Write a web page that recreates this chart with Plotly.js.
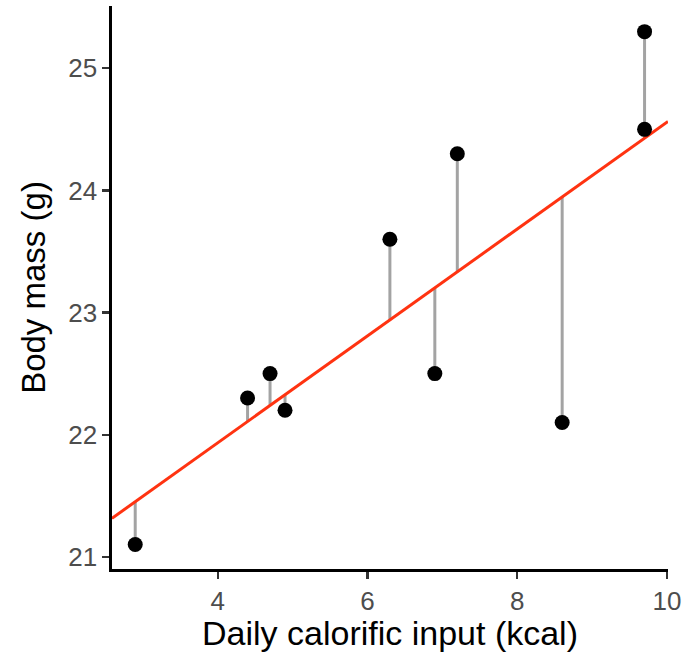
<!DOCTYPE html>
<html>
<head>
<meta charset="utf-8">
<script src="https://cdn.plot.ly/plotly-3.0.1.min.js"></script>
<style>html,body{margin:0;padding:0;background:#fff;}#chart{width:688px;height:652px;}</style>
</head>
<body>
<div id="chart"></div>
<script>
// Data
const calories = [2.9, 4.4, 4.7, 4.9, 6.3, 6.9, 7.2, 8.6, 9.7, 9.7];
const bodyMass = [21.1, 22.3, 22.5, 22.2, 23.6, 22.5, 24.3, 22.1, 25.3, 24.5];
const xTicks = [4, 6, 8, 10];
const yTicks = [21, 22, 23, 24, 25];
const xRange = [2.59, 10.013];
const yRange = [20.9, 25.51];

// least-squares fit
const n = calories.length;
const mx = calories.reduce((a, b) => a + b, 0) / n;
const my = bodyMass.reduce((a, b) => a + b, 0) / n;
let sxy = 0, sxx = 0;
for (let i = 0; i < n; i++) { sxy += (calories[i] - mx) * (bodyMass[i] - my); sxx += (calories[i] - mx) ** 2; }
const slope = sxy / sxx;
const intercept = my - slope * mx;
const fit = x => intercept + slope * x;

const segX = [], segY = [];
for (let i = 0; i < n; i++) { segX.push(calories[i], calories[i], null); segY.push(bodyMass[i], fit(calories[i]), null); }

const traces = [
  { x: segX, y: segY, mode: 'lines', line: { color: '#a3a3a3', width: 3 }, hoverinfo: 'skip', cliponaxis: false },
  { x: xRange, y: xRange.map(fit), mode: 'lines', line: { color: '#ff3311', width: 3 }, hoverinfo: 'skip' },
  { x: calories, y: bodyMass, mode: 'markers', marker: { color: '#000', size: 15 }, cliponaxis: false }
];

const font = 'Liberation Sans, Arial, Helvetica, sans-serif';
const layout = {
  width: 688, height: 652,
  margin: { l: 112, r: 20, t: 6, b: 83 },
  paper_bgcolor: '#fff', plot_bgcolor: '#fff',
  showlegend: false,
  font: { family: font },
  xaxis: {
    range: xRange, tickvals: xTicks, ticktext: xTicks.map(String),
    showgrid: false, zeroline: false,
    showline: true, linecolor: '#000', linewidth: 2.6,
    ticks: 'outside', ticklen: 7, tickwidth: 2.2, tickcolor: '#333',
    tickfont: { size: 26, color: '#4d4d4d', family: font },
    title: { text: 'Daily calorific input (kcal)', font: { size: 34, color: '#000', family: font }, standoff: 8 }
  },
  yaxis: {
    range: yRange, tickvals: yTicks, ticktext: yTicks.map(String),
    showgrid: false, zeroline: false,
    showline: true, linecolor: '#000', linewidth: 2.6,
    ticks: 'outside', ticklen: 7, tickwidth: 2.2, tickcolor: '#333',
    tickfont: { size: 26, color: '#4d4d4d', family: font },
    title: { text: 'Body mass (g)', font: { size: 33, color: '#000', family: font }, standoff: 13 }
  }
};

Plotly.newPlot('chart', traces, layout, { displayModeBar: false, staticPlot: true });
</script>
</body>
</html>
